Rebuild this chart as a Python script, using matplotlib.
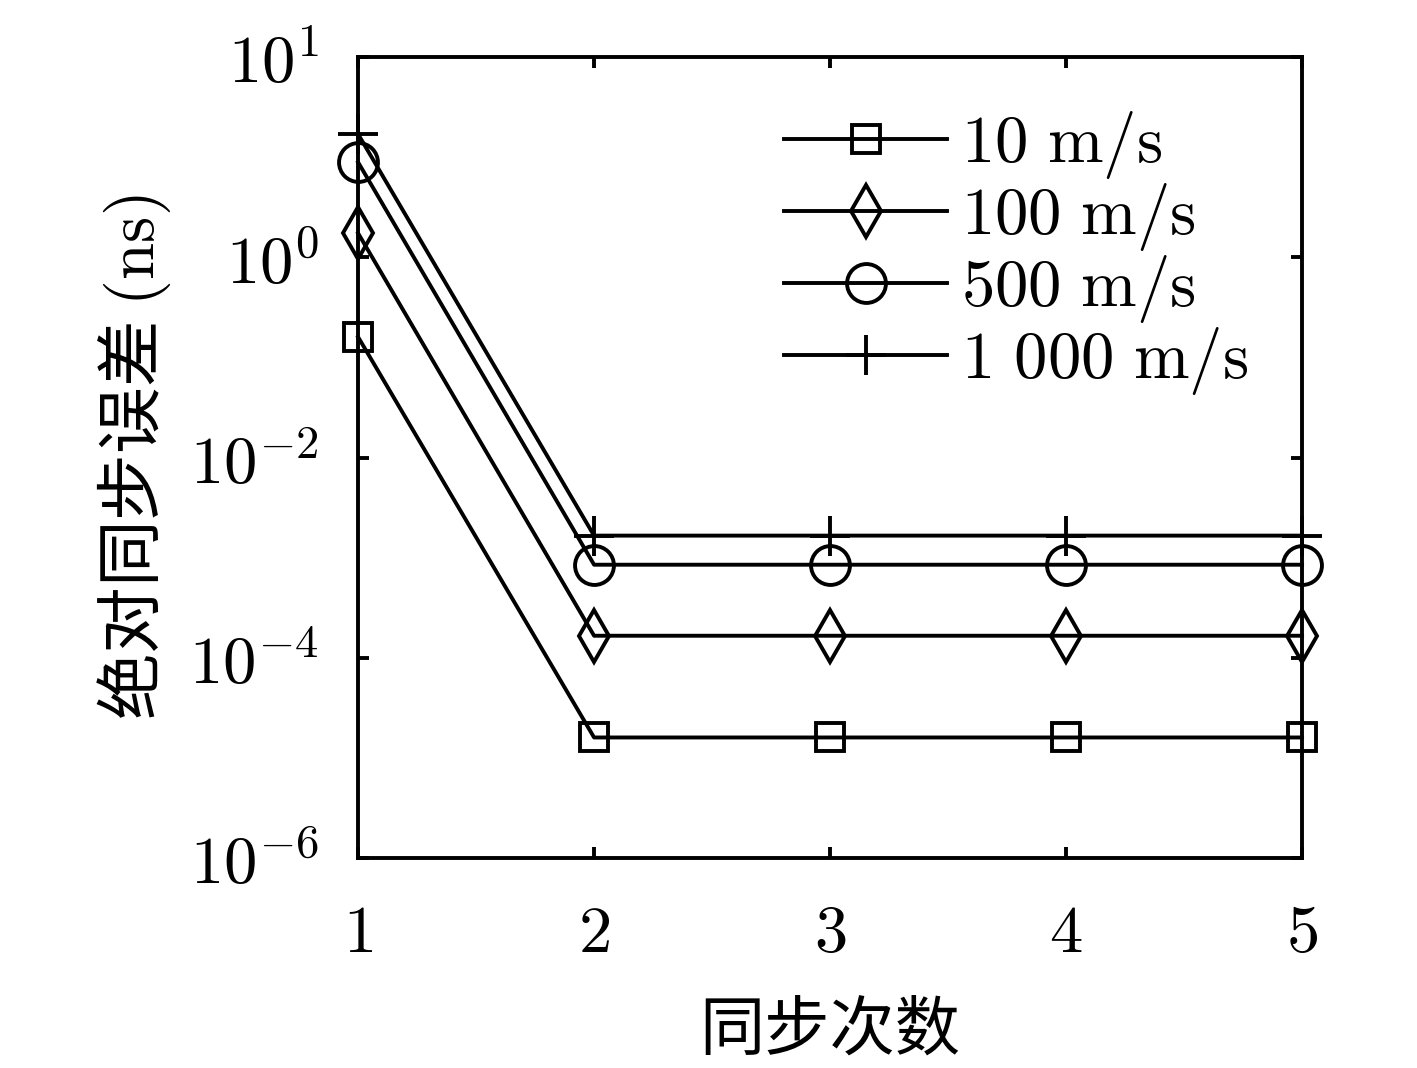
import matplotlib
matplotlib.use("Agg")
import matplotlib.pyplot as plt
import numpy as np

plt.rcParams['mathtext.fontset'] = 'cm'
plt.rcParams['font.family'] = ['Noto Sans CJK SC', 'DejaVu Sans']

x = [1, 2, 3, 4, 5]
v10 = [0.16, 1.6e-5, 1.6e-5, 1.6e-5, 1.6e-5]
v100 = [1.74, 1.66e-4, 1.66e-4, 1.66e-4, 1.66e-4]
v500 = [8.9, 8.5e-4, 8.5e-4, 8.5e-4, 8.5e-4]
v1000 = [17.0, 1.66e-3, 1.66e-3, 1.66e-3, 1.66e-3]
labels = [r'$10\ \mathrm{m/s}$', r'$100\ \mathrm{m/s}$', r'$500\ \mathrm{m/s}$', r'$1\ 000\ \mathrm{m/s}$']
yticks = [1e-6, 1e-4, 1e-2, 1e0, 1e2]
yticklabels = [r'$10^{-6}$', r'$10^{-4}$', r'$10^{-2}$', r'$10^{0}$', r'$10^{1}$']
xticklabels = [r'$1$', r'$2$', r'$3$', r'$4$', r'$5$']

fig = plt.figure(figsize=(14.17, 10.68), dpi=100)
ax = fig.add_axes([0.2527, 0.1966, 0.9189 - 0.2527, 0.9466 - 0.1966])

lw = 2.8
series = [(v10, 's', 20), (v100, 'd', 26), (v500, 'o', 28), (v1000, '+', 29)]
for (vals, m, ms), lab in zip(series, labels):
    ax.plot(x, vals, color='black', lw=lw, marker=m, ms=ms, mfc='none',
            mec='black', mew=lw, label=lab, clip_on=False)

ax.set_yscale('log')
ax.set_ylim(1e-6, 1e2)
ax.set_xlim(1, 5)
ax.set_yticks(yticks)
ax.set_yticklabels(yticklabels)
ax.yaxis.set_minor_locator(matplotlib.ticker.NullLocator())
ax.set_xticks(x)
ax.set_xticklabels(xticklabels)
ax.tick_params(direction='in', length=8, width=2.8, top=True, right=True,
               labelsize=48)
ax.tick_params(axis='x', pad=30)
ax.tick_params(axis='y', pad=28)
for s in ax.spines.values():
    s.set_linewidth(2.8)

ax.set_xlabel('同步次数', fontsize=47, labelpad=22)
ax.set_ylabel(r'绝对同步误差 $(\mathrm{ns})$', fontsize=48, labelpad=12)

leg = ax.legend(loc='upper right', frameon=False, fontsize=48, numpoints=1,
                handlelength=2.45, handletextpad=0.2, labelspacing=0.0,
                bbox_to_anchor=(0.985, 0.985), borderaxespad=0.2)

fig.savefig('out.png', dpi=100)
